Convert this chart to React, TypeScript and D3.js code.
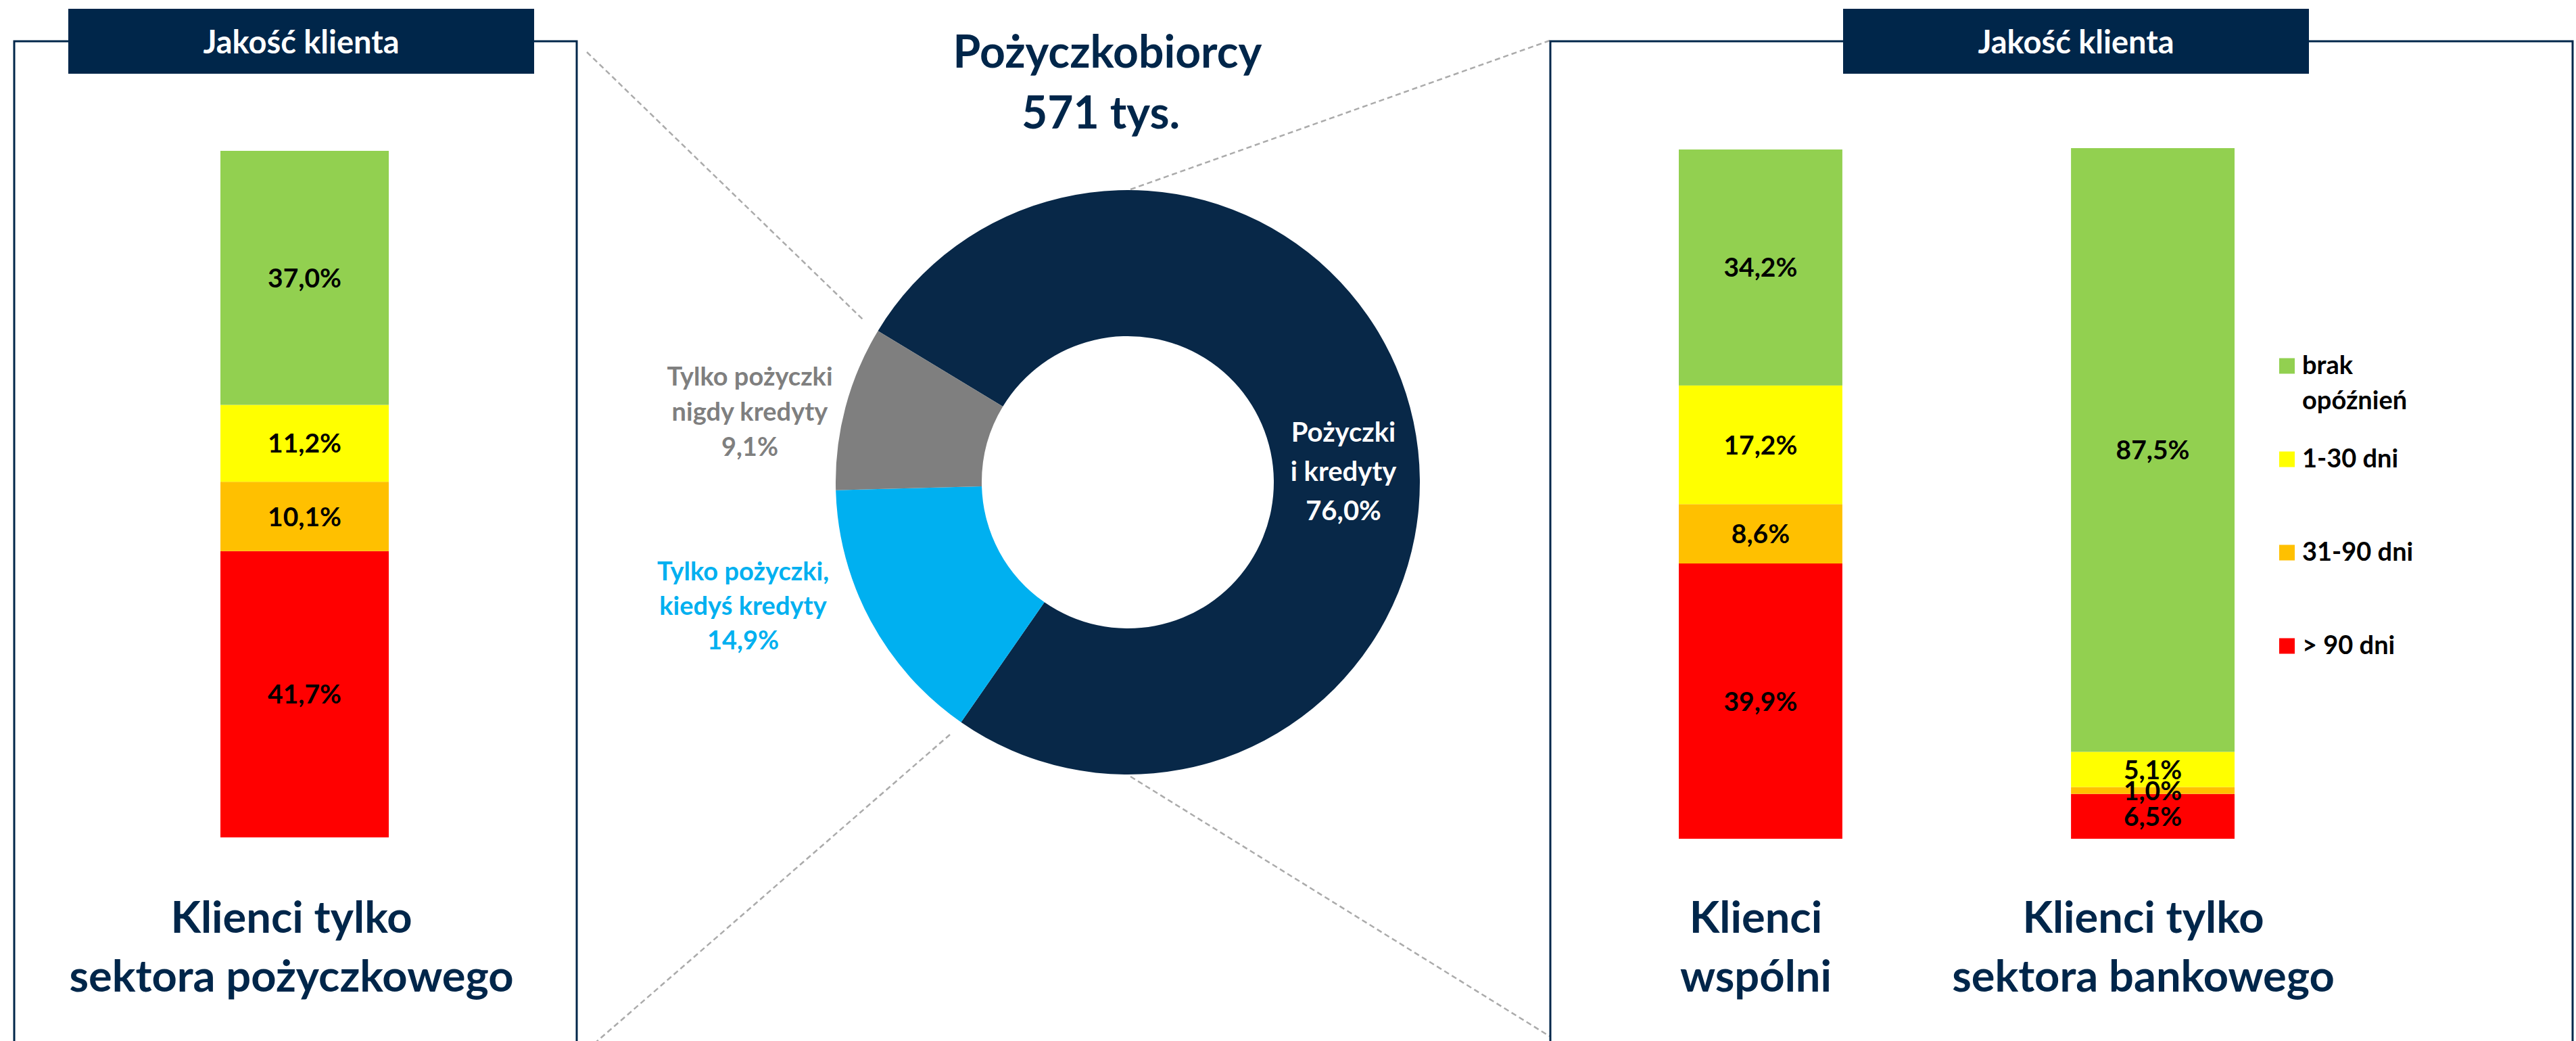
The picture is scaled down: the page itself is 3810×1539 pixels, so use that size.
import { arc, pie, scaleBand, scaleLinear, scalePoint, stack } from "d3";
import React from "react";

// quality buckets, top of bar to bottom
const qualityKeys = ["brak opóźnień", "1-30 dni", "31-90 dni", "> 90 dni"];
const qualityLegend = ["brak\nopóźnień", "1-30 dni", "31-90 dni", "> 90 dni"];
const qualityColors = ["#92d050", "#ffff00", "#ffc000", "#ff0000"];

const loanOnlyCategory = ["Klienci tylko\nsektora pożyczkowego"];
const loanOnlyValues = [37.0, 11.2, 10.1, 41.7];

const bankCategories = ["Klienci\nwspólni", "Klienci tylko\nsektora bankowego"];
const jointValues = [34.2, 17.2, 8.6, 39.9];
const bankOnlyValues = [87.5, 5.1, 1.0, 6.5];

const donutNames = ["Pożyczki\ni kredyty", "Tylko pożyczki,\nkiedyś kredyty", "Tylko pożyczki\nnigdy kredyty"];
const donutValues = [76.0, 14.9, 9.1];
const donutColors = ["#082848", "#00b0f0", "#7f7f7f"];
const donutLabelColors = ["#ffffff", "#00b0f0", "#7f7f7f"];

const title = ["Pożyczkobiorcy", "571 tys."];
const panelTitle = "Jakość klienta";

const W = 3810;
const H = 1539;
const NAVY = "#00264a";
const FONT = "Lato, 'Open Sans', sans-serif";

const fmt = (v: number) => v.toFixed(1).replace(".", ",") + "%";

type BarsProps = {
	names: string[];
	rows: number[][];
	x0: number;
	x1: number;
	paddingInner: number;
	yTop: number;
	yBottom: number;
	nameX: number[];
};

const StackedBars: React.FC<BarsProps> = ({ names, rows, x0, x1, paddingInner, yTop, yBottom, nameX }) => {
	const table = names.map((n, i) => {
		const row: Record<string, any> = { name: n };
		qualityKeys.forEach((k, j) => (row[k] = rows[i][j]));
		return row;
	});
	// bottom bucket first so red sits on the axis
	const series = stack<any>().keys([...qualityKeys].reverse())(table);
	const xScale = scaleBand().domain(names).range([x0, x1]).paddingInner(paddingInner).paddingOuter(0);
	const yScale = scaleLinear().domain([0, 100]).range([yBottom, yTop]);

	return (
		<g>
			{series.map((s) => {
				const ki = qualityKeys.indexOf(s.key);
				return (
					<g key={s.key}>
						{s.map((d, i) => (
							<rect
								key={i}
								x={xScale(names[i]) || 0}
								width={xScale.bandwidth()}
								y={yScale(d[1])}
								height={yScale(d[0]) - yScale(d[1])}
								fill={qualityColors[ki]}
							/>
						))}
					</g>
				);
			})}
			{series.map((s) =>
				s.map((d, i) => (
					<text
						key={s.key + i}
						x={(xScale(names[i]) || 0) + xScale.bandwidth() / 2}
						y={(yScale(d[0]) + yScale(d[1])) / 2}
						dy="0.36em"
						textAnchor="middle"
						fontSize={39}
						fontWeight={700}
						fill="#000">
						{fmt(d[1] - d[0])}
					</text>
				)),
			)}
			{names.map((n, i) => (
				<text key={n} x={nameX[i]} y={1379} textAnchor="middle" fontSize={65} fontWeight={700} fill={NAVY}>
					{n.split("\n").map((line, j) => (
						<tspan key={j} x={nameX[i]} dy={j === 0 ? 0 : 87}>
							{line}
						</tspan>
					))}
				</text>
			))}
		</g>
	);
};

const Panel: React.FC<{ x0: number; x1: number; hx0: number; hx1: number }> = ({ x0, x1, hx0, hx1 }) => (
	<g>
		<path d={`M${x0},${H + 5}V61H${x1}V${H + 5}`} fill="none" stroke={NAVY} strokeWidth={3} />
		<rect x={hx0} y={13} width={hx1 - hx0} height={96} fill={NAVY} />
		<text x={(hx0 + hx1) / 2} y={79} textAnchor="middle" fontSize={47} fontWeight={700} fill="#fff">
			{panelTitle}
		</text>
	</g>
);

const Donut: React.FC = () => {
	const cx = 1668;
	const cy = 713;
	const a0 = (-58.8 * Math.PI) / 180;
	const arcs = pie<number>().sort(null).startAngle(a0).endAngle(a0 + 2 * Math.PI)(donutValues);
	const arcGen = arc<any>().innerRadius(216).outerRadius(432);
	// label anchor points (centre x, first baseline, line step, font size)
	const labelPos = [
		{ x: 1987, y: 653, step: 58, size: 40 },
		{ x: 1099, y: 858, step: 51, size: 38 },
		{ x: 1109, y: 570, step: 52, size: 38 },
	];
	return (
		<g>
			<g transform={`translate(${cx},${cy})`}>
				{arcs.map((a, i) => (
					<path key={i} d={arcGen(a) || ""} fill={donutColors[i]} />
				))}
			</g>
			{donutNames.map((n, i) => {
				const p = labelPos[i];
				const lines = [...n.split("\n"), fmt(donutValues[i])];
				return (
					<text key={i} textAnchor="middle" fontSize={p.size} fontWeight={700} fill={donutLabelColors[i]}>
						{lines.map((l, j) => (
							<tspan key={j} x={p.x} y={p.y + j * p.step}>
								{l}
							</tspan>
						))}
					</text>
				);
			})}
			<text textAnchor="middle" fontSize={66} fontWeight={700} fill={NAVY}>
				<tspan x={1638} y={100}>
					{title[0]}
				</tspan>
				<tspan x={1628} y={190}>
					{title[1]}
				</tspan>
			</text>
		</g>
	);
};

const Legend: React.FC = () => {
	const yScale = scalePoint().domain(qualityKeys).range([541, 955]);
	return (
		<g>
			{qualityKeys.map((k, i) => {
				const y = yScale(k) || 0;
				return (
					<g key={k}>
						<rect x={3371} y={y - 11.5} width={23} height={23} fill={qualityColors[i]} />
						<text fontSize={38} fontWeight={700} fill="#000">
							{qualityLegend[i].split("\n").map((l, j) => (
								<tspan key={j} x={3405} y={y + 12 + j * 52}>
									{l}
								</tspan>
							))}
						</text>
					</g>
				);
			})}
		</g>
	);
};

export default function App() {
	const dash = { stroke: "#ababab", strokeWidth: 2.5, strokeDasharray: "8 5" };
	return (
		<div style={{ position: "absolute", left: 0, top: 0, background: "#fff" }}>
			<svg width={W} height={H} style={{ display: "block", fontFamily: FONT }}>
				<rect width={W} height={H} fill="#fff" />
				<line x1={868} y1={77} x2={1277} y2={473} {...dash} />
				<line x1={1405} y1={1086} x2={880} y2={1542} {...dash} />
				<line x1={1672} y1={280} x2={2292} y2={60} {...dash} />
				<line x1={1672} y1={1148} x2={2292} y2={1532} {...dash} />

				<Panel x0={21} x1={853} hx0={101} hx1={790} />
				<Panel x0={2293} x1={3805} hx0={2726} hx1={3415} />

				<StackedBars
					names={loanOnlyCategory}
					rows={[loanOnlyValues]}
					x0={326}
					x1={575}
					paddingInner={0}
					yTop={223}
					yBottom={1238}
					nameX={[431]}
				/>
				<StackedBars
					names={bankCategories}
					rows={[jointValues, bankOnlyValues]}
					x0={2483}
					x1={3305}
					paddingInner={0.583}
					yTop={220}
					yBottom={1240}
					nameX={[2597, 3170]}
				/>
				<Legend />
				<Donut />
			</svg>
		</div>
	);
}
